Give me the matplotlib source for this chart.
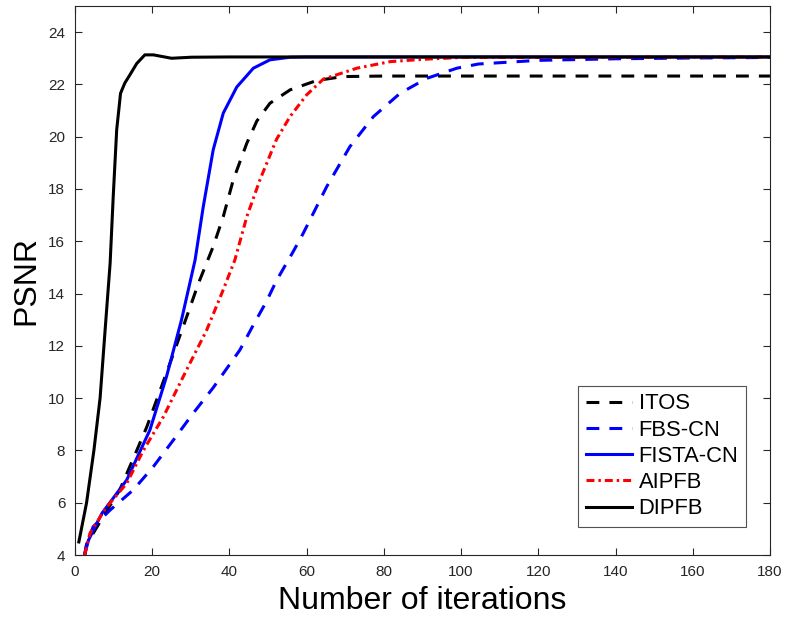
#!/usr/bin/env python3
"""PSNR vs iterations for five splitting methods."""

import matplotlib

matplotlib.use("Agg")
import matplotlib.pyplot as plt

plt.rcParams["font.family"] = ["Liberation Sans", "DejaVu Sans"]

# values
itos_x = [2.5, 3, 5, 7.3, 11.6, 16, 18.6, 24.6, 28.9, 32, 35.8, 38.4, 41, 44.5, 47.1, 50.5, 55.7, 62.6, 69.5, 80, 100, 180]
itos_y = [4.0, 4.4, 4.9, 5.47, 6.49, 8.0, 8.9, 11.33, 13.1, 14.4, 15.8, 16.94, 18.35, 19.75, 20.6, 21.28, 21.79, 22.15, 22.3, 22.32, 22.32, 22.32]

fbs_x = [2.5, 3, 4.7, 9.1, 15.1, 20.3, 25.5, 30.6, 35.8, 42.7, 46.2, 49.6, 52.2, 56.5, 59.1, 65.2, 71.2, 77.3, 84.2, 91.1, 98.9, 104.5, 120, 140, 160, 180]
fbs_y = [4.0, 4.4, 5.08, 5.72, 6.49, 7.38, 8.4, 9.42, 10.4, 11.84, 12.8, 13.7, 14.5, 15.6, 16.3, 18.09, 19.62, 20.77, 21.66, 22.23, 22.62, 22.78, 22.92, 22.98, 23.01, 23.03]

fista_x = [2.5, 3.5, 7, 13.4, 19.4, 23.7, 27.6, 31.1, 33.2, 35.8, 38.4, 41.9, 46.2, 50.5, 55.7, 60, 180]
fista_y = [4.0, 4.57, 5.6, 6.87, 8.78, 10.82, 13.0, 15.28, 17.3, 19.5, 20.9, 21.9, 22.62, 22.94, 23.04, 23.05, 23.05]

aipfb_x = [2.5, 3.9, 8, 13.4, 17.7, 22.9, 28.9, 34.1, 38, 41.4, 44.5, 47.9, 52.2, 55.7, 60, 64.3, 73, 81.6, 90.1, 100, 180]
aipfb_y = [4.0, 4.84, 5.8, 6.74, 8.0, 9.29, 11.08, 12.6, 14.0, 15.28, 16.94, 18.35, 19.9, 20.77, 21.6, 22.2, 22.62, 22.87, 22.96, 23.03, 23.05]

dipfb_x = [1, 3, 4.9, 6.5, 7.8, 9.1, 9.9, 10.8, 11.8, 12.9, 14.2, 16, 18.1, 20.3, 25, 30.2, 40, 180]
dipfb_y = [4.5, 6.0, 8.0, 10.0, 12.6, 15.16, 17.7, 20.26, 21.66, 22.05, 22.36, 22.8, 23.13, 23.13, 23.0, 23.04, 23.05, 23.05]

labels = ["ITOS", "FBS-CN", "FISTA-CN", "AIPFB", "DIPFB"]


def main() -> None:
    fig = plt.figure(figsize=(7.86, 6.22), dpi=100)
    ax = fig.add_axes([0.0954, 0.1077, 0.8842, 0.8827])

    lw = 2.2
    dash = (4.2, 3.3)
    dashdot = (2.6, 1.3, 0.8, 1.3)
    ax.plot(itos_x, itos_y, color="black", lw=lw, dashes=dash, label=labels[0])
    ax.plot(fbs_x, fbs_y, color="blue", lw=lw, dashes=dash, label=labels[1])
    ax.plot(fista_x, fista_y, color="blue", lw=lw, label=labels[2])
    ax.plot(aipfb_x, aipfb_y, color="red", lw=lw, dashes=dashdot, label=labels[3])
    ax.plot(dipfb_x, dipfb_y, color="black", lw=lw, label=labels[4])

    ax.set_xlim(0, 180)
    ax.set_ylim(4, 25)
    ax.set_xticks(range(0, 181, 20))
    ax.set_yticks(range(4, 25, 2))
    ax.tick_params(direction="in", top=True, right=True, length=5, pad=7,
                   labelsize=11, colors="#262626", width=0.8)
    for s in ax.spines.values():
        s.set_color("#262626")
        s.set_linewidth(0.8)

    ax.set_xlabel("Number of iterations", fontsize=23, labelpad=5)
    ax.set_ylabel("PSNR", fontsize=23, labelpad=5)

    leg = ax.legend(loc="lower right", bbox_to_anchor=(0.9655, 0.051), borderaxespad=0,
                    fontsize=15.8, frameon=True, fancybox=False, edgecolor="#262626",
                    handlelength=2.1, borderpad=0.35, labelspacing=0.24,
                    handletextpad=0.3)
    leg.get_frame().set_linewidth(0.8)

    fig.savefig("out.png", dpi=100)
    plt.close(fig)


if __name__ == "__main__":
    main()
